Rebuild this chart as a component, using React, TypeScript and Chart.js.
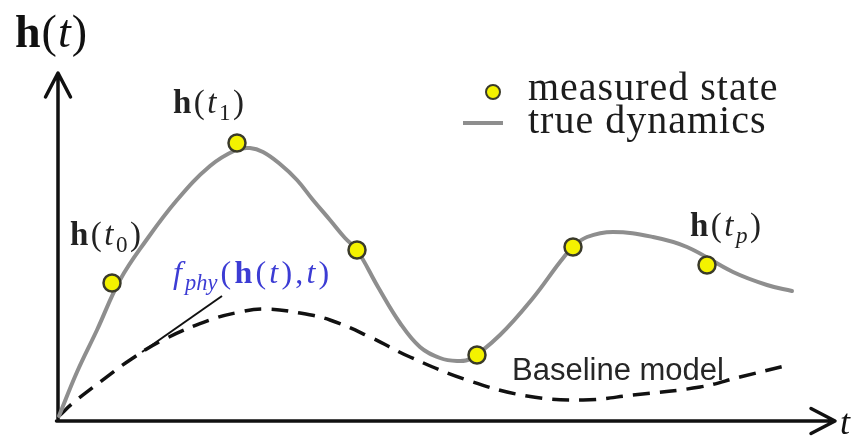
import { useEffect, useRef } from "react";
import { Chart, registerables } from "chart.js";

Chart.register(...registerables);

// Plot units: t along the time axis, h along the state axis.
const trueT = [0.1, 1.9, 3.9, 6.2, 8.7, 11.9, 15.2, 17.8, 19.2, 20.5, 22.2, 23.9, 25.5, 27.2, 28.7, 29.9, 32.0, 34.2, 36.2, 38.2, 39.9, 41.2, 44.2, 47.5, 50.2, 51.5, 52.9, 55.5, 59.5, 62.9, 67.5, 70.9, 73.4];
const trueH = [0.5, 4.9, 9.1, 14.1, 17.9, 22.1, 25.5, 27.1, 27.3, 26.9, 25.7, 24.1, 22.1, 20.1, 18.3, 17.1, 13.4, 9.8, 7.4, 6.3, 6.0, 6.2, 8.6, 12.3, 15.9, 17.4, 18.4, 18.9, 18.4, 17.4, 14.9, 13.6, 13.0];

const measuredT = [5.4, 17.9, 29.9, 41.9, 51.5, 64.9];
const measuredH = [13.8, 27.8, 17.1, 6.6, 17.4, 15.6];

const baselineT = [0.1, 1.5, 4.2, 7.2, 10.5, 15.2, 18.2, 20.7, 24.2, 27.2, 31.2, 35.2, 40.9, 46.9, 52.5, 57.5, 64.2, 68.2, 72.7];
const baselineH = [0.5, 1.8, 3.9, 6.1, 8.1, 10.1, 10.9, 11.2, 10.8, 10.1, 8.4, 6.4, 4.1, 2.5, 2.1, 2.6, 3.4, 4.4, 5.5];

// tangent segment showing the physics derivative
const slopeT = [8.4, 16.4];
const slopeH = [6.9, 12.5];

// axis extents (arrow tips)
const tAxisEnd = 77.7;
const hAxisEnd = 34.8;

const GRAY = "#8e8e8e";
const YELLOW = "#f4f200";
const POINT_EDGE = "#3a3a2a";
const INK = "#111111";
const BLUE = "#3c3cd4";
const SERIF = '"Liberation Serif", "Times New Roman", serif';

const pts = (ts: number[], hs: number[]) => ts.map((t, i) => ({ x: t, y: hs[i] }));

type Seg = { t: string; s?: string; sub?: boolean };

// Draws a run of styled segments (bold / italic / subscript) starting at (x, y) baseline.
function drawRich(ctx: CanvasRenderingContext2D, segs: Seg[], x: number, y: number, size: number, color: string, gap = 0, spacing = 0) {
  let cx = x;
  ctx.fillStyle = color;
  ctx.textBaseline = "alphabetic";
  ctx.textAlign = "left";
  (ctx as any).letterSpacing = `${spacing}px`;
  for (const seg of segs) {
    const sz = seg.sub ? size * 0.7 : size;
    ctx.font = `${seg.s ?? ""} ${sz}px ${SERIF}`;
    const dy = seg.sub ? size * 0.22 : 0;
    ctx.fillText(seg.t, cx, y + dy);
    cx += ctx.measureText(seg.t).width + gap;
  }
  (ctx as any).letterSpacing = "0px";
}

const stateLabel = (sub: string, subStyle = ""): Seg[] => [
  { t: "h", s: "bold" },
  { t: "(" },
  { t: "t", s: "italic" },
  { t: sub, s: subStyle, sub: true },
  { t: ")" },
];

const annotate = {
  id: "annotate",
  beforeDatasetsDraw(chart: any) {
    const { ctx, scales } = chart;
    const X = (v: number) => scales.x.getPixelForValue(v);
    const Y = (v: number) => scales.y.getPixelForValue(v);
    const ox = X(0);
    const oy = Y(0);
    const tx = X(tAxisEnd);
    const hy = Y(hAxisEnd);
    ctx.save();
    ctx.strokeStyle = INK;
    ctx.lineWidth = 3.5;
    ctx.lineCap = "round";
    ctx.lineJoin = "round";
    ctx.beginPath();
    ctx.moveTo(ox, oy);
    ctx.lineTo(ox, hy + 1);
    ctx.moveTo(ox - 1.5, oy);
    ctx.lineTo(tx - 1, oy);
    // arrow heads
    ctx.moveTo(ox - 12.5, hy + 24);
    ctx.lineTo(ox, hy);
    ctx.lineTo(ox + 12.5, hy + 24);
    ctx.moveTo(tx - 24, oy - 12.5);
    ctx.lineTo(tx, oy);
    ctx.lineTo(tx - 24, oy + 12.5);
    ctx.stroke();
    ctx.restore();
  },
  afterDatasetsDraw(chart: any) {
    const { ctx, scales } = chart;
    const X = (v: number) => scales.x.getPixelForValue(v);
    const Y = (v: number) => scales.y.getPixelForValue(v);
    ctx.save();

    // axis titles
    drawRich(ctx, [{ t: "h", s: "bold" }, { t: "(" }, { t: "t", s: "italic" }, { t: ")" }], X(-4.3), Y(37.4), 46, INK, 1);
    drawRich(ctx, [{ t: "t", s: "italic" }], X(78.2), Y(-1.3), 36, INK);

    // state labels
    drawRich(ctx, stateLabel("1"), X(11.5), Y(30.8), 33, "#222", 2.5);
    drawRich(ctx, stateLabel("0"), X(1.2), Y(17.6), 33, "#222", 2.5);
    drawRich(ctx, stateLabel("p", "italic"), X(63.2), Y(18.5), 33, "#222", 2.5);

    // physics derivative label
    drawRich(
      ctx,
      [
        { t: "f", s: "italic" },
        { t: "phy", s: "italic", sub: true },
        { t: "(" },
        { t: "h", s: "bold" },
        { t: "(" },
        { t: "t", s: "italic" },
        { t: ")" },
        { t: "," },
        { t: "t", s: "italic" },
        { t: ")" },
      ],
      X(11.5),
      Y(13.8),
      32,
      BLUE,
      3.2
    );

    // baseline model label
    ctx.font = '31px "Liberation Sans", Arial, sans-serif';
    ctx.fillStyle = "#262626";
    ctx.fillText("Baseline model", X(45.4), Y(4.1));

    // legend
    ctx.beginPath();
    ctx.arc(X(43.5), Y(32.9), 7, 0, Math.PI * 2);
    ctx.fillStyle = YELLOW;
    ctx.fill();
    ctx.lineWidth = 2;
    ctx.strokeStyle = POINT_EDGE;
    ctx.stroke();
    ctx.beginPath();
    ctx.moveTo(X(40.5), Y(29.8));
    ctx.lineTo(X(44.5), Y(29.8));
    ctx.lineWidth = 4;
    ctx.strokeStyle = GRAY;
    ctx.stroke();
    drawRich(ctx, [{ t: "measured state" }], X(47.0), Y(32.1), 40, "#1c1c1c", 0, 1);
    drawRich(ctx, [{ t: "true dynamics" }], X(47.0), Y(28.8), 40, "#1c1c1c", 0, 1);

    ctx.restore();
  },
};

export default function App() {
  const ref = useRef<HTMLCanvasElement>(null);

  useEffect(() => {
    if (!ref.current) return;
    const chart = new Chart(ref.current, {
      type: "scatter",
      data: {
        datasets: [
          {
            label: "measured state",
            data: pts(measuredT, measuredH),
            showLine: false,
            pointRadius: 8.5,
            pointBorderWidth: 2.5,
            pointBackgroundColor: YELLOW,
            pointBorderColor: POINT_EDGE,
          },
          {
            label: "slope",
            data: pts(slopeT, slopeH),
            showLine: true,
            borderColor: INK,
            borderWidth: 2,
            pointRadius: 0,
          },
          {
            label: "true dynamics",
            data: pts(trueT, trueH),
            showLine: true,
            borderColor: GRAY,
            borderWidth: 4,
            borderCapStyle: "round",
            tension: 0.4,
            pointRadius: 0,
          },
          {
            label: "Baseline model",
            data: pts(baselineT, baselineH),
            showLine: true,
            borderColor: INK,
            borderWidth: 3.5,
            borderDash: [17, 10],
            tension: 0.4,
            pointRadius: 0,
          },
        ],
      },
      options: {
        animation: false,
        responsive: false,
        events: [],
        layout: { padding: 0, autoPadding: false },
        scales: {
          x: { type: "linear", min: -5.8, max: 80.3, display: false },
          y: { type: "linear", min: -1.5, max: 42.1, display: false },
        },
        plugins: { legend: { display: false }, tooltip: { enabled: false } },
      },
      plugins: [annotate],
    } as any);
    return () => chart.destroy();
  }, []);

  return (
    <div style={{ position: "fixed", left: 0, top: 0, width: 861, height: 436, background: "#fff" }}>
      <canvas ref={ref} width={861} height={436} />
    </div>
  );
}
